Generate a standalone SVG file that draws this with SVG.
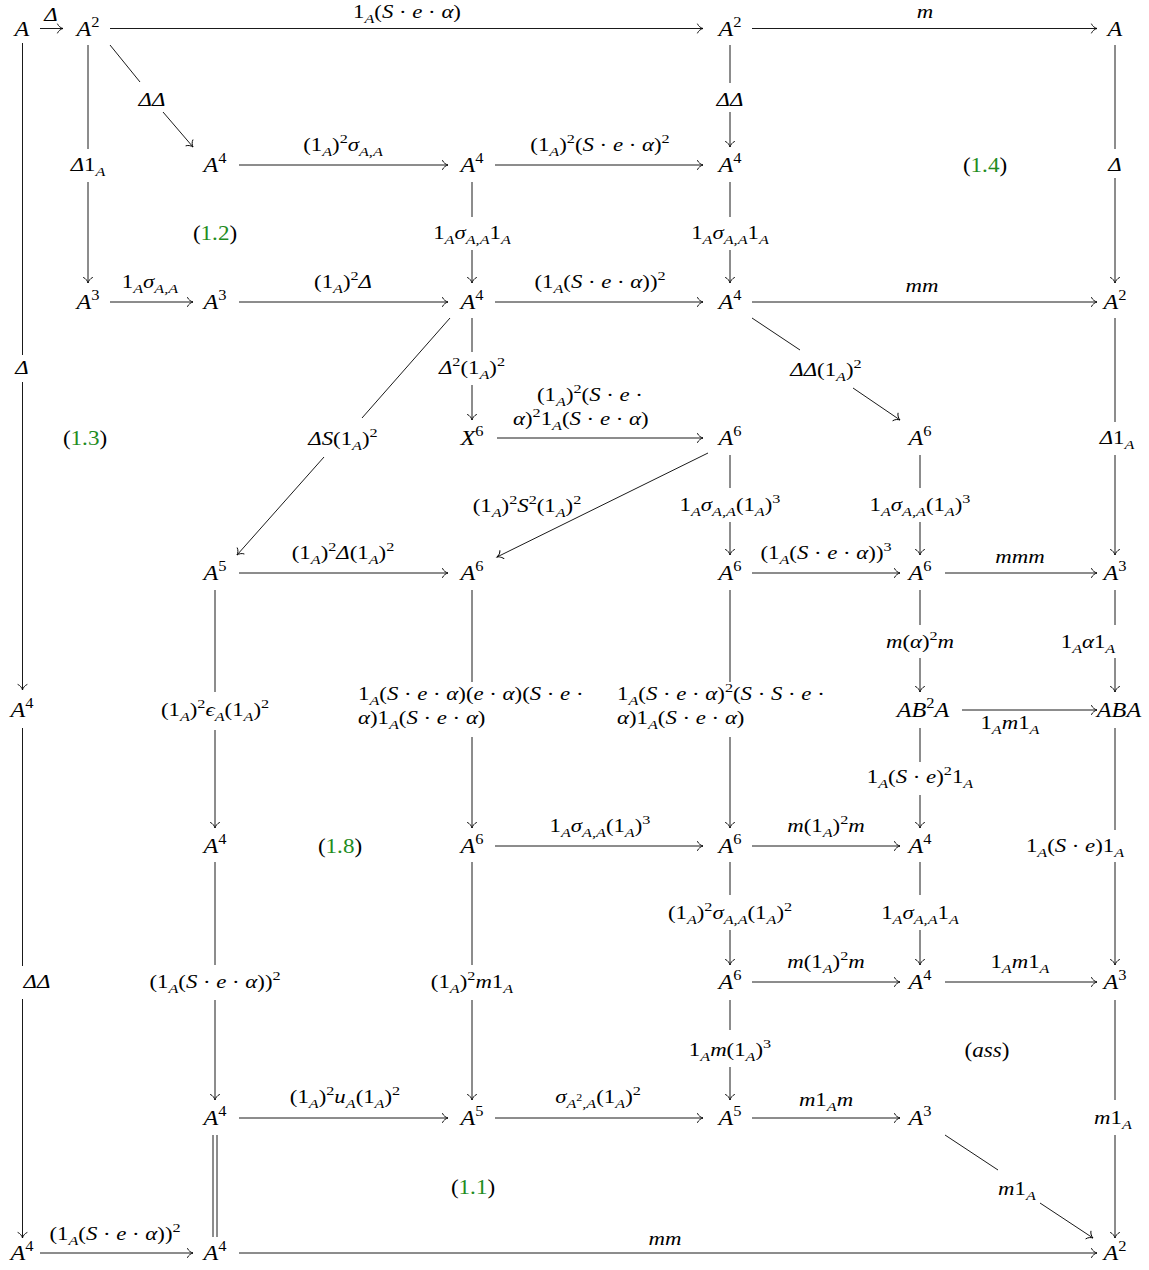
<svg xmlns="http://www.w3.org/2000/svg" width="1149" height="1270" viewBox="0 0 1149 1270">
<defs>
<style>
.n{font-family:"Liberation Serif",serif;font-style:italic;font-size:22px;text-anchor:middle;fill:#000}
.l{font-family:"Liberation Serif","DejaVu Serif",serif;font-style:italic;font-size:19px;text-anchor:middle;fill:#000}
.ls{text-anchor:start}
.u{font-style:normal}
.sb{font-size:13.5px;baseline-shift:-4.5px}
.sp{font-size:13.5px;font-style:normal;baseline-shift:8px}
.s2{font-size:10px;font-style:normal;baseline-shift:2px}
.ns{font-size:15px;font-style:normal;baseline-shift:9px}
.g{font-family:"Liberation Serif",serif;font-size:21px;text-anchor:middle;fill:#000}
.gr{fill:#1e8c1e}
.e path{fill:none;stroke:#000;stroke-width:0.9}
.e path.a{marker-end:url(#ah)}
</style>
<marker id="ah" viewBox="-7 -6 8 12" refX="0" refY="0" markerWidth="8" markerHeight="12" markerUnits="userSpaceOnUse" orient="auto" overflow="visible">
<path d="M-5.5,-4.5 C-4.5,-2 -2,-0.6 0,0 C-2,0.6 -4.5,2 -5.5,4.5" fill="none" stroke="#000" stroke-width="0.9" stroke-linecap="round"/>
</marker>
</defs>
<rect width="1149" height="1270" fill="#fff"/>

<g id="connectors" class="e">
<path class="a" d="M40 28.5H63"/>
<path class="a" d="M110 28.5H703"/>
<path class="a" d="M752 28.5H1097"/>
<path class="a" d="M239 165H448"/>
<path class="a" d="M495 165H703"/>
<path class="a" d="M110 302H193"/>
<path class="a" d="M239 302H448"/>
<path class="a" d="M495 302H703"/>
<path class="a" d="M752 302H1097"/>
<path class="a" d="M497 438H703"/>
<path class="a" d="M239 573H448"/>
<path class="a" d="M752 573H900"/>
<path class="a" d="M945 573H1097"/>
<path class="a" d="M962 710H1097"/>
<path class="a" d="M495 846H703"/>
<path class="a" d="M752 846H900"/>
<path class="a" d="M752 982H900"/>
<path class="a" d="M945 982H1097"/>
<path class="a" d="M239 1118H448"/>
<path class="a" d="M495 1118H703"/>
<path class="a" d="M752 1118H900"/>
<path class="a" d="M40 1253H193"/>
<path class="a" d="M239 1253H1097"/>
<path d="M22.5 43V355"/><path class="a" d="M22.5 382V690"/>
<path d="M22.5 728V966"/><path class="a" d="M22.5 999V1238"/>
<path d="M88 45V149"/><path class="a" d="M88 182V283"/>
<path d="M730 45V83"/><path class="a" d="M730 112V147"/>
<path d="M1115 45V149"/><path class="a" d="M1115 178V283"/>
<path d="M472 182V217"/><path class="a" d="M472 250V283"/>
<path d="M730 182V217"/><path class="a" d="M730 250V283"/>
<path d="M472 318V352"/><path class="a" d="M472 385V420"/>
<path d="M1115 318V422"/><path class="a" d="M1115 455V555"/>
<path d="M730 455V488"/><path class="a" d="M730 522V555"/>
<path d="M920 455V488"/><path class="a" d="M920 522V555"/>
<path d="M215 590V692"/><path class="a" d="M215 730V828"/>
<path d="M472 590V682"/><path class="a" d="M472 737V828"/>
<path d="M730 590V682"/><path class="a" d="M730 737V828"/>
<path d="M920 590V625"/><path class="a" d="M920 658V692"/>
<path d="M1115 590V625"/><path class="a" d="M1115 658V692"/>
<path d="M920 728V762"/><path class="a" d="M920 795V828"/>
<path d="M1115 728V830"/><path class="a" d="M1115 862V965"/>
<path d="M215 862V965"/><path class="a" d="M215 1000V1100"/>
<path d="M472 862V965"/><path class="a" d="M472 1000V1100"/>
<path d="M730 862V895"/><path class="a" d="M730 930V965"/>
<path d="M920 862V895"/><path class="a" d="M920 930V965"/>
<path d="M730 1000V1030"/><path class="a" d="M730 1067V1100"/>
<path d="M1115 1000V1100"/><path class="a" d="M1115 1135V1238"/>
<path d="M213 1135V1237"/><path d="M217 1135V1237"/>
<path d="M110 45L140 82"/><path class="a" d="M163 112L193 147"/>
<path d="M450 318L362 418"/><path class="a" d="M324 457L237 555"/>
<path d="M752 318L800 350"/><path class="a" d="M853 388L900 420"/>
<path class="a" d="M708 453L497 557"/>
<path d="M945 1135L998 1170"/><path class="a" d="M1040 1203L1093 1238"/>
</g>

<g id="labels">
<text class="l" transform="translate(51 21) scale(1.2 1)">Δ</text>
<text class="l" transform="translate(407 18) scale(1.2 1)"><tspan class="u">1</tspan><tspan class="sb">A</tspan><tspan class="u">(</tspan>S<tspan class="u"> · </tspan>e<tspan class="u"> · </tspan>α<tspan class="u">)</tspan></text>
<text class="l" transform="translate(925 18) scale(1.2 1)">m</text>
<text class="l" transform="translate(343 151) scale(1.2 1)"><tspan class="u">(1</tspan><tspan class="sb">A</tspan><tspan class="u">)</tspan><tspan class="sp">2</tspan>σ<tspan class="sb">A,A</tspan></text>
<text class="l" transform="translate(600 151) scale(1.2 1)"><tspan class="u">(1</tspan><tspan class="sb">A</tspan><tspan class="u">)</tspan><tspan class="sp">2</tspan><tspan class="u">(</tspan>S<tspan class="u"> · </tspan>e<tspan class="u"> · </tspan>α<tspan class="u">)</tspan><tspan class="sp">2</tspan></text>
<text class="l" transform="translate(150 288) scale(1.2 1)"><tspan class="u">1</tspan><tspan class="sb">A</tspan>σ<tspan class="sb">A,A</tspan></text>
<text class="l" transform="translate(343 288) scale(1.2 1)"><tspan class="u">(1</tspan><tspan class="sb">A</tspan><tspan class="u">)</tspan><tspan class="sp">2</tspan>Δ</text>
<text class="l" transform="translate(600 288) scale(1.2 1)"><tspan class="u">(1</tspan><tspan class="sb">A</tspan><tspan class="u">(</tspan>S<tspan class="u"> · </tspan>e<tspan class="u"> · </tspan>α<tspan class="u">))</tspan><tspan class="sp">2</tspan></text>
<text class="l" transform="translate(922 292) scale(1.2 1)">mm</text>
<text class="l ls" transform="translate(537 401) scale(1.2 1)"><tspan class="u">(1</tspan><tspan class="sb">A</tspan><tspan class="u">)</tspan><tspan class="sp">2</tspan><tspan class="u">(</tspan>S<tspan class="u"> · </tspan>e<tspan class="u"> ·</tspan></text>
<text class="l ls" transform="translate(513 425) scale(1.2 1)">α<tspan class="u">)</tspan><tspan class="sp">2</tspan><tspan class="u">1</tspan><tspan class="sb">A</tspan><tspan class="u">(</tspan>S<tspan class="u"> · </tspan>e<tspan class="u"> · </tspan>α<tspan class="u">)</tspan></text>
<text class="l" transform="translate(343 559) scale(1.2 1)"><tspan class="u">(1</tspan><tspan class="sb">A</tspan><tspan class="u">)</tspan><tspan class="sp">2</tspan>Δ<tspan class="u">(1</tspan><tspan class="sb">A</tspan><tspan class="u">)</tspan><tspan class="sp">2</tspan></text>
<text class="l" transform="translate(826 559) scale(1.2 1)"><tspan class="u">(1</tspan><tspan class="sb">A</tspan><tspan class="u">(</tspan>S<tspan class="u"> · </tspan>e<tspan class="u"> · </tspan>α<tspan class="u">))</tspan><tspan class="sp">3</tspan></text>
<text class="l" transform="translate(1020 563) scale(1.2 1)">mmm</text>
<text class="l" transform="translate(1010 729) scale(1.2 1)"><tspan class="u">1</tspan><tspan class="sb">A</tspan>m<tspan class="u">1</tspan><tspan class="sb">A</tspan></text>
<text class="l" transform="translate(600 832) scale(1.2 1)"><tspan class="u">1</tspan><tspan class="sb">A</tspan>σ<tspan class="sb">A,A</tspan><tspan class="u">(1</tspan><tspan class="sb">A</tspan><tspan class="u">)</tspan><tspan class="sp">3</tspan></text>
<text class="l" transform="translate(826 832) scale(1.2 1)">m<tspan class="u">(1</tspan><tspan class="sb">A</tspan><tspan class="u">)</tspan><tspan class="sp">2</tspan>m</text>
<text class="l" transform="translate(826 968) scale(1.2 1)">m<tspan class="u">(1</tspan><tspan class="sb">A</tspan><tspan class="u">)</tspan><tspan class="sp">2</tspan>m</text>
<text class="l" transform="translate(1020 968) scale(1.2 1)"><tspan class="u">1</tspan><tspan class="sb">A</tspan>m<tspan class="u">1</tspan><tspan class="sb">A</tspan></text>
<text class="l" transform="translate(345 1103) scale(1.2 1)"><tspan class="u">(1</tspan><tspan class="sb">A</tspan><tspan class="u">)</tspan><tspan class="sp">2</tspan>u<tspan class="sb">A</tspan><tspan class="u">(1</tspan><tspan class="sb">A</tspan><tspan class="u">)</tspan><tspan class="sp">2</tspan></text>
<text class="l" transform="translate(598 1103) scale(1.2 1)">σ<tspan class="sb">A</tspan><tspan class="s2">2</tspan><tspan class="sb">,A</tspan><tspan class="u">(1</tspan><tspan class="sb">A</tspan><tspan class="u">)</tspan><tspan class="sp">2</tspan></text>
<text class="l" transform="translate(826 1106) scale(1.2 1)">m<tspan class="u">1</tspan><tspan class="sb">A</tspan>m</text>
<text class="l" transform="translate(115 1240) scale(1.2 1)"><tspan class="u">(1</tspan><tspan class="sb">A</tspan><tspan class="u">(</tspan>S<tspan class="u"> · </tspan>e<tspan class="u"> · </tspan>α<tspan class="u">))</tspan><tspan class="sp">2</tspan></text>
<text class="l" transform="translate(665 1245) scale(1.2 1)">mm</text>

<text class="l" transform="translate(22 374) scale(1.2 1)">Δ</text>
<text class="l" transform="translate(37 988) scale(1.2 1)">ΔΔ</text>
<text class="l" transform="translate(88 171) scale(1.2 1)">Δ<tspan class="u">1</tspan><tspan class="sb">A</tspan></text>
<text class="l" transform="translate(730 106) scale(1.2 1)">ΔΔ</text>
<text class="l" transform="translate(1115 171) scale(1.2 1)">Δ</text>
<text class="l" transform="translate(472 239) scale(1.2 1)"><tspan class="u">1</tspan><tspan class="sb">A</tspan>σ<tspan class="sb">A,A</tspan><tspan class="u">1</tspan><tspan class="sb">A</tspan></text>
<text class="l" transform="translate(730 239) scale(1.2 1)"><tspan class="u">1</tspan><tspan class="sb">A</tspan>σ<tspan class="sb">A,A</tspan><tspan class="u">1</tspan><tspan class="sb">A</tspan></text>
<text class="l" transform="translate(472 374) scale(1.2 1)">Δ<tspan class="sp">2</tspan><tspan class="u">(1</tspan><tspan class="sb">A</tspan><tspan class="u">)</tspan><tspan class="sp">2</tspan></text>
<text class="l" transform="translate(1117 444) scale(1.2 1)">Δ<tspan class="u">1</tspan><tspan class="sb">A</tspan></text>
<text class="l" transform="translate(730 511) scale(1.2 1)"><tspan class="u">1</tspan><tspan class="sb">A</tspan>σ<tspan class="sb">A,A</tspan><tspan class="u">(1</tspan><tspan class="sb">A</tspan><tspan class="u">)</tspan><tspan class="sp">3</tspan></text>
<text class="l" transform="translate(920 511) scale(1.2 1)"><tspan class="u">1</tspan><tspan class="sb">A</tspan>σ<tspan class="sb">A,A</tspan><tspan class="u">(1</tspan><tspan class="sb">A</tspan><tspan class="u">)</tspan><tspan class="sp">3</tspan></text>
<text class="l" transform="translate(215 716) scale(1.2 1)"><tspan class="u">(1</tspan><tspan class="sb">A</tspan><tspan class="u">)</tspan><tspan class="sp">2</tspan>ϵ<tspan class="sb">A</tspan><tspan class="u">(1</tspan><tspan class="sb">A</tspan><tspan class="u">)</tspan><tspan class="sp">2</tspan></text>
<text class="l ls" transform="translate(358 700) scale(1.2 1)"><tspan class="u">1</tspan><tspan class="sb">A</tspan><tspan class="u">(</tspan>S<tspan class="u"> · </tspan>e<tspan class="u"> · </tspan>α<tspan class="u">)(</tspan>e<tspan class="u"> · </tspan>α<tspan class="u">)(</tspan>S<tspan class="u"> · </tspan>e<tspan class="u"> ·</tspan></text>
<text class="l ls" transform="translate(358 724) scale(1.2 1)">α<tspan class="u">)1</tspan><tspan class="sb">A</tspan><tspan class="u">(</tspan>S<tspan class="u"> · </tspan>e<tspan class="u"> · </tspan>α<tspan class="u">)</tspan></text>
<text class="l ls" transform="translate(617 700) scale(1.2 1)"><tspan class="u">1</tspan><tspan class="sb">A</tspan><tspan class="u">(</tspan>S<tspan class="u"> · </tspan>e<tspan class="u"> · </tspan>α<tspan class="u">)</tspan><tspan class="sp">2</tspan><tspan class="u">(</tspan>S<tspan class="u"> · </tspan>S<tspan class="u"> · </tspan>e<tspan class="u"> ·</tspan></text>
<text class="l ls" transform="translate(617 724) scale(1.2 1)">α<tspan class="u">)1</tspan><tspan class="sb">A</tspan><tspan class="u">(</tspan>S<tspan class="u"> · </tspan>e<tspan class="u"> · </tspan>α<tspan class="u">)</tspan></text>
<text class="l" transform="translate(920 648) scale(1.2 1)">m<tspan class="u">(</tspan>α<tspan class="u">)</tspan><tspan class="sp">2</tspan>m</text>
<text class="l" transform="translate(1088 648) scale(1.2 1)"><tspan class="u">1</tspan><tspan class="sb">A</tspan>α<tspan class="u">1</tspan><tspan class="sb">A</tspan></text>
<text class="l" transform="translate(920 783) scale(1.2 1)"><tspan class="u">1</tspan><tspan class="sb">A</tspan><tspan class="u">(</tspan>S<tspan class="u"> · </tspan>e<tspan class="u">)</tspan><tspan class="sp">2</tspan><tspan class="u">1</tspan><tspan class="sb">A</tspan></text>
<text class="l" transform="translate(1075 852) scale(1.2 1)"><tspan class="u">1</tspan><tspan class="sb">A</tspan><tspan class="u">(</tspan>S<tspan class="u"> · </tspan>e<tspan class="u">)1</tspan><tspan class="sb">A</tspan></text>
<text class="l" transform="translate(215 988) scale(1.2 1)"><tspan class="u">(1</tspan><tspan class="sb">A</tspan><tspan class="u">(</tspan>S<tspan class="u"> · </tspan>e<tspan class="u"> · </tspan>α<tspan class="u">))</tspan><tspan class="sp">2</tspan></text>
<text class="l" transform="translate(472 988) scale(1.2 1)"><tspan class="u">(1</tspan><tspan class="sb">A</tspan><tspan class="u">)</tspan><tspan class="sp">2</tspan>m<tspan class="u">1</tspan><tspan class="sb">A</tspan></text>
<text class="l" transform="translate(730 919) scale(1.2 1)"><tspan class="u">(1</tspan><tspan class="sb">A</tspan><tspan class="u">)</tspan><tspan class="sp">2</tspan>σ<tspan class="sb">A,A</tspan><tspan class="u">(1</tspan><tspan class="sb">A</tspan><tspan class="u">)</tspan><tspan class="sp">2</tspan></text>
<text class="l" transform="translate(920 919) scale(1.2 1)"><tspan class="u">1</tspan><tspan class="sb">A</tspan>σ<tspan class="sb">A,A</tspan><tspan class="u">1</tspan><tspan class="sb">A</tspan></text>
<text class="l" transform="translate(730 1056) scale(1.2 1)"><tspan class="u">1</tspan><tspan class="sb">A</tspan>m<tspan class="u">(1</tspan><tspan class="sb">A</tspan><tspan class="u">)</tspan><tspan class="sp">3</tspan></text>
<text class="l" transform="translate(1113 1124) scale(1.2 1)">m<tspan class="u">1</tspan><tspan class="sb">A</tspan></text>
<text class="l" transform="translate(152 106) scale(1.2 1)">ΔΔ</text>
<text class="l" transform="translate(343 445) scale(1.2 1)">ΔS<tspan class="u">(1</tspan><tspan class="sb">A</tspan><tspan class="u">)</tspan><tspan class="sp">2</tspan></text>
<text class="l" transform="translate(826 376) scale(1.2 1)">ΔΔ<tspan class="u">(1</tspan><tspan class="sb">A</tspan><tspan class="u">)</tspan><tspan class="sp">2</tspan></text>
<text class="l" transform="translate(527 512) scale(1.2 1)"><tspan class="u">(1</tspan><tspan class="sb">A</tspan><tspan class="u">)</tspan><tspan class="sp">2</tspan>S<tspan class="sp">2</tspan><tspan class="u">(1</tspan><tspan class="sb">A</tspan><tspan class="u">)</tspan><tspan class="sp">2</tspan></text>
<text class="l" transform="translate(1017 1195) scale(1.2 1)">m<tspan class="u">1</tspan><tspan class="sb">A</tspan></text>
</g>

<g id="tags">
<text class="g" transform="translate(215 240) scale(1.1 1)">(<tspan class="gr">1.2</tspan>)</text>
<text class="g" transform="translate(985 172) scale(1.1 1)">(<tspan class="gr">1.4</tspan>)</text>
<text class="g" transform="translate(85 445) scale(1.1 1)">(<tspan class="gr">1.3</tspan>)</text>
<text class="g" transform="translate(340 853) scale(1.1 1)">(<tspan class="gr">1.8</tspan>)</text>
<text class="g" transform="translate(473 1194) scale(1.1 1)">(<tspan class="gr">1.1</tspan>)</text>
<text class="g" transform="translate(987 1057) scale(1.1 1)">(<tspan font-style="italic">ass</tspan>)</text>
</g>

<g id="n00"><text class="n" transform="translate(22 36) scale(1.1 1)">A</text></g>
<g id="n01"><text class="n" transform="translate(88 36) scale(1.1 1)">A<tspan class="ns">2</tspan></text></g>
<g id="n02"><text class="n" transform="translate(730 36) scale(1.1 1)">A<tspan class="ns">2</tspan></text></g>
<g id="n03"><text class="n" transform="translate(1115 36) scale(1.1 1)">A</text></g>
<g id="n11"><text class="n" transform="translate(215 172) scale(1.1 1)">A<tspan class="ns">4</tspan></text></g>
<g id="n12"><text class="n" transform="translate(472 172) scale(1.1 1)">A<tspan class="ns">4</tspan></text></g>
<g id="n13"><text class="n" transform="translate(730 172) scale(1.1 1)">A<tspan class="ns">4</tspan></text></g>
<g id="n20"><text class="n" transform="translate(88 309) scale(1.1 1)">A<tspan class="ns">3</tspan></text></g>
<g id="n21"><text class="n" transform="translate(215 309) scale(1.1 1)">A<tspan class="ns">3</tspan></text></g>
<g id="n22"><text class="n" transform="translate(472 309) scale(1.1 1)">A<tspan class="ns">4</tspan></text></g>
<g id="n23"><text class="n" transform="translate(730 309) scale(1.1 1)">A<tspan class="ns">4</tspan></text></g>
<g id="n24"><text class="n" transform="translate(1115 309) scale(1.1 1)">A<tspan class="ns">2</tspan></text></g>
<g id="n30"><text class="n" transform="translate(472 445) scale(1.1 1)">X<tspan class="ns">6</tspan></text></g>
<g id="n31"><text class="n" transform="translate(730 445) scale(1.1 1)">A<tspan class="ns">6</tspan></text></g>
<g id="n32"><text class="n" transform="translate(920 445) scale(1.1 1)">A<tspan class="ns">6</tspan></text></g>
<g id="n40"><text class="n" transform="translate(215 580) scale(1.1 1)">A<tspan class="ns">5</tspan></text></g>
<g id="n41"><text class="n" transform="translate(472 580) scale(1.1 1)">A<tspan class="ns">6</tspan></text></g>
<g id="n42"><text class="n" transform="translate(730 580) scale(1.1 1)">A<tspan class="ns">6</tspan></text></g>
<g id="n43"><text class="n" transform="translate(920 580) scale(1.1 1)">A<tspan class="ns">6</tspan></text></g>
<g id="n44"><text class="n" transform="translate(1115 580) scale(1.1 1)">A<tspan class="ns">3</tspan></text></g>
<g id="n50"><text class="n" transform="translate(22 717) scale(1.1 1)">A<tspan class="ns">4</tspan></text></g>
<g id="n51"><text class="n" transform="translate(923 717) scale(1.1 1)">AB<tspan class="ns">2</tspan>A</text></g>
<g id="n52"><text class="n" transform="translate(1119 717) scale(1.1 1)">ABA</text></g>
<g id="n60"><text class="n" transform="translate(215 853) scale(1.1 1)">A<tspan class="ns">4</tspan></text></g>
<g id="n61"><text class="n" transform="translate(472 853) scale(1.1 1)">A<tspan class="ns">6</tspan></text></g>
<g id="n62"><text class="n" transform="translate(730 853) scale(1.1 1)">A<tspan class="ns">6</tspan></text></g>
<g id="n63"><text class="n" transform="translate(920 853) scale(1.1 1)">A<tspan class="ns">4</tspan></text></g>
<g id="n70"><text class="n" transform="translate(730 989) scale(1.1 1)">A<tspan class="ns">6</tspan></text></g>
<g id="n71"><text class="n" transform="translate(920 989) scale(1.1 1)">A<tspan class="ns">4</tspan></text></g>
<g id="n72"><text class="n" transform="translate(1115 989) scale(1.1 1)">A<tspan class="ns">3</tspan></text></g>
<g id="n80"><text class="n" transform="translate(215 1125) scale(1.1 1)">A<tspan class="ns">4</tspan></text></g>
<g id="n81"><text class="n" transform="translate(472 1125) scale(1.1 1)">A<tspan class="ns">5</tspan></text></g>
<g id="n82"><text class="n" transform="translate(730 1125) scale(1.1 1)">A<tspan class="ns">5</tspan></text></g>
<g id="n83"><text class="n" transform="translate(920 1125) scale(1.1 1)">A<tspan class="ns">3</tspan></text></g>
<g id="n90"><text class="n" transform="translate(22 1260) scale(1.1 1)">A<tspan class="ns">4</tspan></text></g>
<g id="n91"><text class="n" transform="translate(215 1260) scale(1.1 1)">A<tspan class="ns">4</tspan></text></g>
<g id="n92"><text class="n" transform="translate(1115 1260) scale(1.1 1)">A<tspan class="ns">2</tspan></text></g>
</svg>
